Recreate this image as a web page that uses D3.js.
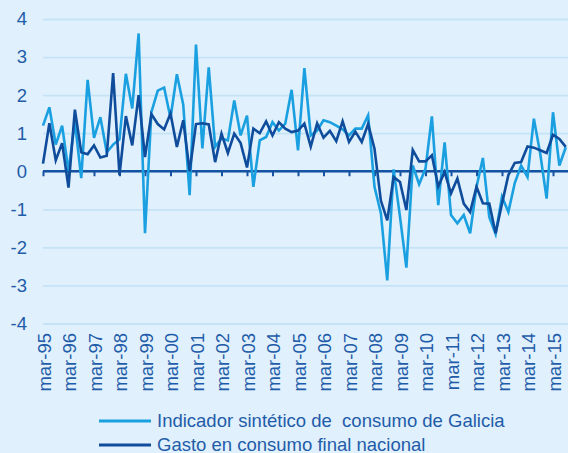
<!DOCTYPE html>
<html>
<head>
<meta charset="utf-8">
<script src="https://cdn.jsdelivr.net/npm/d3@7"></script>
<style>
  html, body { margin: 0; padding: 0; background: #e0f0fc; }
  svg { display: block; font-family: "Liberation Sans", Arial, sans-serif; }
</style>
</head>
<body>
<script>
const width = 568;
const height = 453;

// quarterly series, mar-95 .. sep-15
const years = ['95', '96', '97', '98', '99', '00', '01', '02', '03', '04', '05',
  '06', '07', '08', '09', '10', '11', '12', '13', '14', '15'];

const galicia = [
  1.2, 1.68, 0.7, 1.2, 0.0, 1.3, -0.18, 2.4, 0.88, 1.42,
  0.5, 0.7, 0.84, 2.56, 1.65, 3.62, -1.63, 1.55, 2.12, 2.2,
  1.4, 2.55, 1.75, -0.63, 3.33, 0.6, 2.73, 0.64, 0.86, 0.81,
  1.86, 0.94, 1.46, -0.41, 0.81, 0.9, 1.29, 1.07, 1.25, 2.14,
  0.55, 2.71, 0.94, 1.07, 1.34, 1.29, 1.2, 1.1, 0.94, 1.12,
  1.12, 1.47, -0.41, -1.1, -2.87, 0.05, -1.2, -2.53, 0.15, -0.34,
  0.07, 1.44, -0.89, 0.76, -1.15, -1.37, -1.15, -1.63, -0.41, 0.35,
  -1.2, -1.65, -0.67, -1.07, -0.31, 0.15, -0.15, 1.38, 0.46, -0.72,
  1.55, 0.15, 0.63
];

const nacional = [
  0.2, 1.26, 0.29, 0.74, -0.43, 1.62, 0.5, 0.45, 0.68, 0.36,
  0.41, 2.58, -0.1, 1.45, 0.68, 2.0, 0.37, 1.5, 1.24, 1.1,
  1.52, 0.64, 1.34, 0.0, 1.24, 1.26, 1.23, 0.24, 0.99, 0.48,
  0.99, 0.74, 0.1, 1.12, 1.0, 1.31, 0.94, 1.29, 1.12, 1.03,
  1.07, 1.25, 0.65, 1.26, 0.88, 1.06, 0.79, 1.31, 0.77, 1.04,
  0.77, 1.24, 0.59, -0.77, -1.29, -0.15, -0.28, -1.02, 0.56, 0.26,
  0.26, 0.42, -0.4, -0.02, -0.58, -0.19, -0.85, -1.07, -0.41, -0.84,
  -0.85, -1.63, -0.85, -0.1, 0.22, 0.24, 0.65, 0.62, 0.55, 0.48,
  0.96, 0.85, 0.64
];

const seriesNames = ['Indicador sintético de\u00a0 consumo de Galicia', 'Gasto en consumo final nacional'];
const colors = ['#1aa0e0', '#0f4c9c'];
const textColor = '#1f5ca9';

const x = d3.scaleLinear().domain([0, galicia.length - 1]).range([43, 43 + (galicia.length - 1) * 6.375]);
const y = d3.scaleLinear().domain([-4, 4]).range([323.5, 19]);

const svg = d3.select('body').append('svg')
  .attr('width', width)
  .attr('height', height);

svg.append('rect')
  .attr('width', width)
  .attr('height', height)
  .attr('fill', '#e0f0fc');

// gridlines + y labels
const yAxis = svg.append('g')
  .attr('transform', 'translate(43,0)')
  .call(d3.axisLeft(y).tickValues(d3.range(-4, 5)).tickSize(-(width - 43)).tickPadding(16).tickFormat(d => String(d)));
yAxis.select('.domain').remove();
yAxis.selectAll('line').attr('stroke', '#c4e3f7').attr('stroke-width', 1.8);
yAxis.selectAll('text')
  .attr('fill', textColor)
  .attr('font-size', '18.5px')
  .style('font-family', '"Liberation Sans", Arial, sans-serif');

// zero axis with yearly ticks
const tickIdx = years.map((yy, i) => i * 4);
const xAxis = svg.append('g')
  .attr('transform', `translate(0,${y(0)})`)
  .call(d3.axisBottom(x).tickValues(tickIdx).tickSize(5).tickSizeOuter(0).tickFormat(''));
xAxis.select('.domain')
  .attr('d', `M43,0H${width}`)
  .attr('stroke', '#1552a2')
  .attr('stroke-width', 2.6);
xAxis.selectAll('.tick line').attr('stroke', '#1552a2').attr('stroke-width', 2);

// rotated quarter labels
svg.append('g')
  .selectAll('text')
  .data(years)
  .join('text')
    .attr('transform', (d, i) => `translate(${x(i * 4) + 1.5},333) rotate(-90)`)
    .attr('text-anchor', 'end')
    .attr('dy', '0.35em')
    .attr('fill', textColor)
    .attr('font-size', '18.5px')
    .text(d => `mar-${d}`);

const line = d3.line()
  .x((d, i) => x(i))
  .y(d => y(d));

[galicia, nacional].forEach((s, k) => {
  svg.append('path')
    .datum(s)
    .attr('fill', 'none')
    .attr('stroke', colors[k])
    .attr('stroke-width', 2.6)
    .attr('stroke-linejoin', 'miter')
    .attr('d', line);
});

// legend
const legend = svg.append('g')
  .selectAll('g')
  .data(seriesNames)
  .join('g')
    .attr('transform', (d, i) => `translate(99,${421 + i * 24})`);

legend.append('line')
  .attr('x1', 0)
  .attr('x2', 52)
  .attr('stroke', (d, i) => colors[i])
  .attr('stroke-width', 3);

legend.append('text')
  .attr('x', 58)
  .attr('dy', '0.35em')
  .attr('fill', textColor)
  .attr('font-size', '18.5px')
  .text(d => d);
</script>
</body>
</html>
